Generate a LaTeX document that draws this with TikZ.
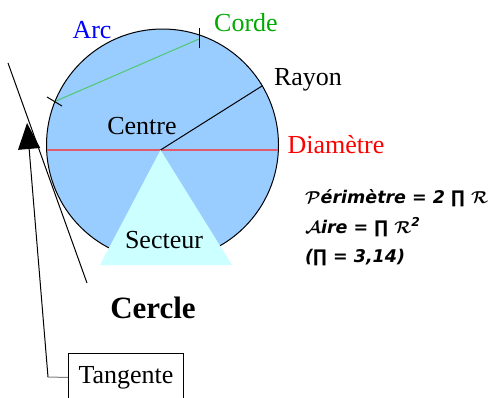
\documentclass[tikz,border=0pt]{standalone}
\usepackage{fontspec}
\setmainfont{Liberation Serif}
\newfontfamily\formfont{DejaVu Sans}
\usetikzlibrary{arrows.meta}
\definecolor{disc}{RGB}{153,204,255}
\definecolor{sect}{RGB}{204,255,255}
\definecolor{chordc}{RGB}{80,200,110}
\definecolor{cordetxt}{RGB}{0,170,0}
\definecolor{diamline}{RGB}{225,90,110}
\newcommand{\scriptcap}[1]{{\boldmath$\mathcal{#1}$}}
\begin{document}
\begin{tikzpicture}[x=1pt,y=-1pt,
  lbl/.style={font=\fontsize{26}{30}\selectfont, anchor=base, inner sep=0pt},
  formula/.style={font=\formfont\bfseries\itshape\fontsize{17.5}{21}\selectfont, anchor=base west, inner sep=0pt},
  thin/.style={line width=1pt}]
\useasboundingbox (0,0) rectangle (500,397);
% disc
\node[circle, draw, fill=disc, minimum size=232pt, inner sep=0pt, line width=1pt] (cercle) at (162.5,145) {};
\coordinate (centre) at (160.5,150);
\coordinate (dl) at (47,150);
\coordinate (dr) at (278,150);
\coordinate (rayend) at (262,86);
\coordinate (c1) at (56,101);
\coordinate (c2) at (199,39);
\coordinate (k1a) at (199,28);
\coordinate (k1b) at (199,48);
\coordinate (k2a) at (47,97);
\coordinate (k2b) at (62,106);
\draw[chordc, thin] (c1) -- (c2);
\draw[thin] (k1a) -- (k1b);
\draw[thin] (k2a) -- (k2b);
\draw[diamline, line width=1.3pt] (dl) -- (dr);
\draw[thin] (centre) -- (rayend);
% sector
\coordinate (sr) at (232,265);
\coordinate (sl) at (100,265);
\fill[sect] (centre) -- (sr) -- (sl) -- cycle;
% labels
\node[lbl, blue] (arc) at (92,38) {Arc};
\node[lbl, cordetxt] (corde) at (246,31) {Corde};
\node[lbl] (rayon) at (308,85) {Rayon};
\node[lbl, red] (diam) at (336,153) {Diamètre};
\node[lbl] (ctr) at (142,134) {Centre};
\node[lbl] (sect) at (164,248) {Secteur};
\node[lbl, font=\fontsize{31}{34}\selectfont\bfseries] (titre) at (153,318) {Cercle};
% tangent
\coordinate (t1) at (8,63);
\coordinate (t2) at (87,283);
\draw[thin] (t1) -- (t2);
% tangent label box
\node[draw, thin, font=\fontsize{26}{30}\selectfont, minimum width=115pt, minimum height=48pt, inner sep=0pt, anchor=north west] (tang) at (68,353) {Tangente};
\coordinate (bend) at (48,377);
\coordinate (tip) at (27,123);
\draw[gray, thin] (tang.west) -- (bend);
\draw[thin, -{Triangle[length=26pt,width=22pt]}] (bend) -- (tip);
% formulas
\node[formula] (f1) at (305,203) {\scriptcap{P}érimètre = 2 ∏ \scriptcap{R}};
\node[formula] (f2) at (305,233) {\scriptcap{A}ire = ∏ \scriptcap{R}\textsuperscript{2}};
\node[formula] (f3) at (305,262) {(∏ = 3,14)};
\end{tikzpicture}
\end{document}
